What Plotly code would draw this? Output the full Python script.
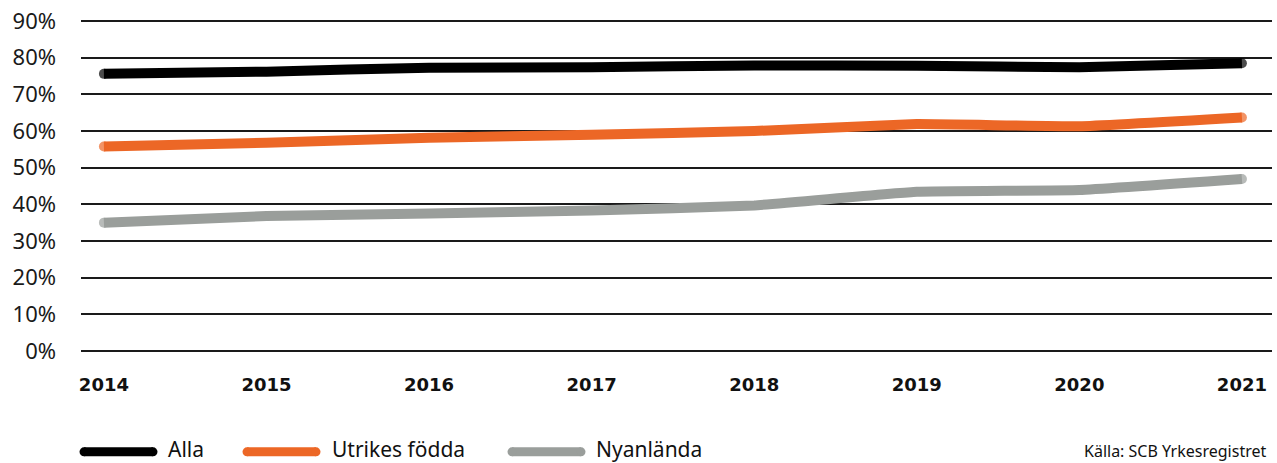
import plotly.graph_objects as go

years = ["2014", "2015", "2016", "2017", "2018", "2019", "2020", "2021"]
alla = [75.6, 76.2, 77.3, 77.4, 77.9, 77.8, 77.4, 78.5]
utrikes = [55.8, 56.8, 58.2, 59.0, 60.0, 61.9, 61.3, 63.7]
nyanlanda = [35.0, 36.8, 37.5, 38.3, 39.7, 43.4, 43.9, 46.9]
series_names = ["Alla", "Utrikes födda", "Nyanlända"]
series_colors = ["#000000", "#ec6726", "#9a9e9b"]
y_ticks = [0, 10, 20, 30, 40, 50, 60, 70, 80, 90]
y_tick_labels = [f"{v}%" for v in y_ticks]
source_text = "Källa: SCB Yrkesregistret"

W, H = 1277, 463
L, R = 81, 1272
T, B = 17.3, 352.3
Y0, Y1 = -0.3, 90.3

fig = go.Figure()
n = len(years)
for name, vals, col in zip(series_names, [alla, utrikes, nyanlanda], series_colors):
    fig.add_trace(go.Scatter(
        x=list(range(n)), y=vals, mode="lines+markers", name=name,
        line=dict(color=col, width=10, shape="spline", smoothing=0.3),
        marker=dict(color=col, size=[10] + [0] * (n - 2) + [10], line=dict(width=0)),
        showlegend=False, hoverinfo="skip"))

def px_x(p):
    return (p - L) / (R - L)

def px_y(p):
    return (B - p) / (B - T)

shapes = []
annotations = []
legend_items = [(80, 157, 166), (243, 320, 330), (508, 585, 594)]
ly = 453
for (x0, x1, tx), name, col in zip(legend_items, series_names, series_colors):
    shapes.append(dict(type="line", xref="paper", yref="paper",
                       x0=px_x(x0 + 4), x1=px_x(x1 - 4), y0=px_y(ly), y1=px_y(ly),
                       line=dict(color=col, width=9)))
    for cx in (x0 + 4, x1 - 4):
        shapes.append(dict(type="circle", xref="paper", yref="paper",
                           x0=px_x(cx - 4.5), x1=px_x(cx + 4.5),
                           y0=px_y(ly + 4.5), y1=px_y(ly - 4.5),
                           fillcolor=col, line=dict(width=0)))
    annotations.append(dict(text=name, xref="paper", yref="paper", x=px_x(tx), y=px_y(450.5),
                            xanchor="left", yanchor="middle", showarrow=False,
                            font=dict(family="Noto Sans", size=21, color="#111111")))

annotations.append(dict(text=source_text, xref="paper", yref="paper", x=px_x(1268), y=px_y(452),
                        xanchor="right", yanchor="middle", showarrow=False,
                        font=dict(family="Noto Sans", size=16, color="#111111")))

fig.update_layout(
    width=W, height=H, autosize=False,
    margin=dict(l=L, r=W - R, t=T, b=H - B, pad=0),
    paper_bgcolor="white", plot_bgcolor="white",
    shapes=shapes, annotations=annotations,
    xaxis=dict(tickmode="array", tickvals=list(range(n)), ticktext=years,
               range=[-0.141, 7.185], showgrid=False, zeroline=False, showline=False,
               ticks="", ticklabelstandoff=20,
               tickfont=dict(family="DejaVu Sans", size=18, color="#111111", weight="bold")),
    yaxis=dict(tickmode="array", tickvals=y_ticks, ticktext=y_tick_labels,
               range=[Y0, Y1], showgrid=True, gridcolor="#1a1a1a", gridwidth=1.5,
               zeroline=False, showline=False, ticks="", ticklabelstandoff=24,
               tickfont=dict(family="Noto Sans", size=22, color="#1a1a1a")),
)

fig.write_html("out.html", config={"displayModeBar": False},
               post_script="document.body.style.margin='0';document.body.style.overflow='hidden';")
